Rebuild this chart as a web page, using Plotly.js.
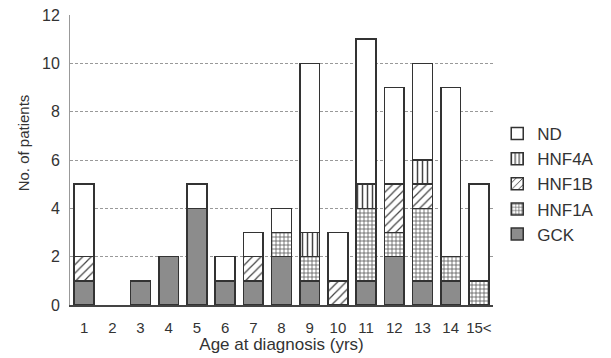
<!DOCTYPE html>
<html>
<head>
<meta charset="utf-8">
<script src="https://cdn.plot.ly/plotly-3.0.1.min.js"></script>
<style>html,body{margin:0;padding:0;background:#fff;}#chart{width:611px;height:358px;}</style>
</head>
<body>
<div id="chart"></div>
<script>
const categories = ['1','2','3','4','5','6','7','8','9','10','11','12','13','14','15<'];
const gck   = [1,0,1,2,4,1,1,2,1,0,1,2,1,1,0];
const hnf1a = [0,0,0,0,0,0,0,1,1,0,3,1,3,1,1];
const hnf1b = [1,0,0,0,0,0,1,0,0,1,0,2,1,0,0];
const hnf4a = [0,0,0,0,0,0,0,0,1,0,1,0,1,0,0];
const nd    = [3,0,0,0,1,1,1,1,7,2,6,4,4,7,4];

const line = {color:'#333', width:1.5};
function tr(name, y, marker){
  return {type:'bar', name:name, x:categories, y:y.map(v => v === 0 ? null : v), width:0.7,
    marker:Object.assign({line:line}, marker)};
}
const data = [
  tr('GCK', gck, {color:'#8c8c8c'}),
  tr('HNF1A', hnf1a, {color:'#ffffff', pattern:{shape:'+', size:4, solidity:0.35, fgcolor:'#555', bgcolor:'#fff'}}),
  tr('HNF1B', hnf1b, {color:'#ffffff', pattern:{shape:'/', size:6, solidity:0.2, fgcolor:'#444', bgcolor:'#fff'}}),
  tr('HNF4A', hnf4a, {color:'#ffffff', pattern:{shape:'|', size:5, solidity:0.3, fgcolor:'#444', bgcolor:'#fff'}}),
  tr('ND', nd, {color:'#ffffff'})
];
const ff = 'Liberation Sans, Arial, sans-serif';
const layout = {
  width:611, height:358,
  margin:{l:70, r:83, t:15, b:53},
  barmode:'stack',
  paper_bgcolor:'#fff', plot_bgcolor:'#fff',
  font:{family:ff, size:15, color:'#333'},
  showlegend:true,
  legend:{traceorder:'reversed', x:1.01, xanchor:'left', y:0.417, yanchor:'middle',
    font:{family:ff, size:17, color:'#333'},
    bgcolor:'rgba(0,0,0,0)', itemwidth:30},
  xaxis:{type:'category', range:[-0.5,14.5], showgrid:false, showline:true, linecolor:'#444', linewidth:1.5,
    ticks:'', tickfont:{size:15}, ticklabelstandoff:8,
    title:{text:'Age at diagnosis (yrs)', font:{size:17}, standoff:3}},
  yaxis:{range:[0,12], dtick:2, showgrid:true, gridcolor:'#999', griddash:'3px,2px', gridwidth:1,
    showline:true, linecolor:'#999', linewidth:1, zeroline:false, ticks:'',
    tickfont:{size:16}, ticklabelstandoff:6},
  annotations:[{text:'No. of patients', xref:'paper', yref:'paper', x:-0.11, y:0.559,
    xanchor:'center', yanchor:'middle', textangle:-90, showarrow:false,
    font:{family:ff, size:15, color:'#333'}}]
};
Plotly.newPlot('chart', data, layout, {displayModeBar:false, staticPlot:true});
</script>
</body>
</html>
